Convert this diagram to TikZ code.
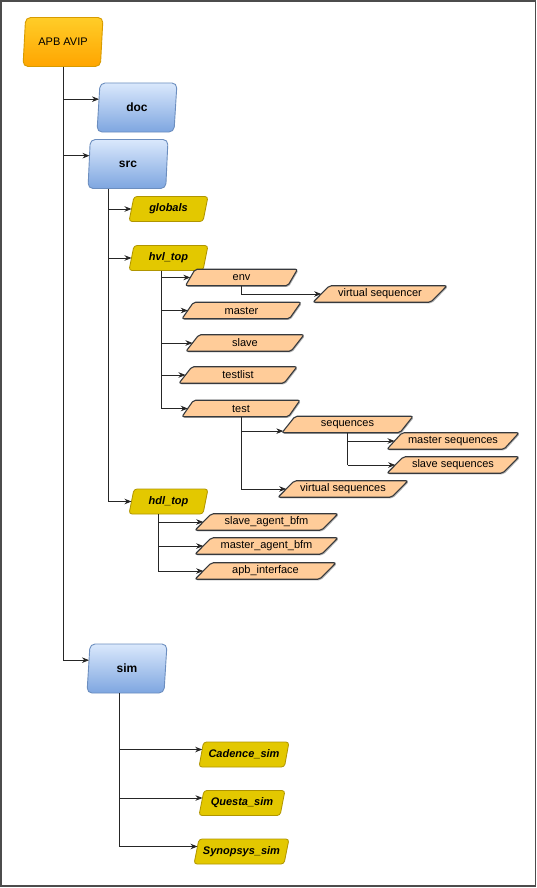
\documentclass[tikz,border=0pt]{standalone}
\usepackage{fontspec}
\setmainfont{Liberation Sans}
\usetikzlibrary{shapes.geometric,arrows.meta,calc,shadows}
\definecolor{apbT}{HTML}{FFCD28}
\definecolor{apbBot}{HTML}{FFA500}
\definecolor{apbB}{HTML}{D79B00}
\definecolor{blueT}{HTML}{DAE8FC}
\definecolor{blueBot}{HTML}{7EA6E0}
\definecolor{blueB}{HTML}{6C8EBF}
\definecolor{goldF}{HTML}{E3C800}
\definecolor{goldB}{HTML}{B09500}
\definecolor{peachF}{HTML}{FFCC99}
\definecolor{peachB}{HTML}{36393D}
\tikzset{
  para/.style={trapezium, trapezium stretches body, inner sep=0pt, outer sep=0pt, align=center},
  bigbox/.style={para, trapezium left angle=71, trapezium right angle=109,
    minimum width=80pt, minimum height=49pt, rounded corners=5pt, line width=0.9pt},
  apbbox/.style={bigbox, draw=apbB, top color=apbT, bottom color=apbBot,
    font=\fontsize{11}{13}\selectfont},
  bluebox/.style={bigbox, draw=blueB, top color=blueT, bottom color=blueBot,
    font=\fontsize{12}{14}\selectfont\bfseries},
  goldbox/.style={para, trapezium left angle=64, trapezium right angle=116,
    minimum height=25pt, rounded corners=3pt, draw=goldB, fill=goldF, line width=0.8pt,
    font=\fontsize{11}{13}\selectfont\bfseries\itshape},
  peachbox/.style={para, trapezium left angle=32, trapezium right angle=148,
    minimum height=16.5pt, rounded corners=2pt, draw=peachB, fill=peachF, line width=1.1pt,
    drop shadow={shadow xshift=1pt, shadow yshift=-1.2pt, opacity=0.3, fill=black},
    font=\fontsize{11}{13}\selectfont},
  ln/.style={line width=0.8pt, draw=black!85},
  arr/.style={ln, -{Stealth[length=7pt,width=5.5pt]}}
}
\begin{document}
\begin{tikzpicture}[x=1pt,y=-1pt]
\useasboundingbox (0,0) rectangle (537,888);
\fill[white] (0,0) rectangle (537,888);
\draw[line width=1.5pt, draw=black!70] (1,1) rectangle (535.5,886);

% top level
\node[apbbox] (apb) at (63,42) {APB AVIP};
\node[bluebox] (doc) at (137,107.5) {doc};
\node[bluebox] (src) at (128,164) {src};
\node[bluebox] (sim) at (127,668.5) {sim};

% src children
\node[goldbox, minimum width=79pt] (glob) at (168.5,209) {globals};
\node[goldbox, minimum width=79pt] (hvl) at (168.5,258) {hvl\_top};
\node[goldbox, minimum width=79pt] (hdl) at (168.5,501.5) {hdl\_top};

% hvl children
\node[peachbox, minimum width=112pt] (env) at (241.5,277.5) {env};
\node[peachbox, minimum width=119pt] (mst) at (241.5,310.5) {master};
\node[peachbox, minimum width=118pt] (slv) at (245,343) {slave};
\node[peachbox, minimum width=118pt] (tl) at (238,375) {testlist};
\node[peachbox, minimum width=118pt] (test) at (241,408.5) {test};
\node[peachbox, minimum width=134pt] (vsqr) at (380,294) {virtual sequencer};
\node[peachbox, minimum width=131pt] (seq) at (347.5,424.5) {sequences};
\node[peachbox, minimum width=132pt] (mseq) at (453,441) {master sequences};
\node[peachbox, minimum width=132pt] (sseq) at (453,465) {slave sequences};
\node[peachbox, minimum width=130pt] (vseqs) at (343,489) {virtual sequences};

% hdl children
\node[peachbox, minimum width=143pt] (sab) at (266.5,522) {slave\_agent\_bfm};
\node[peachbox, minimum width=143pt] (mab) at (266.5,546) {master\_agent\_bfm};
\node[peachbox, minimum width=141pt] (apbi) at (265.5,571) {apb\_interface};

% sim children
\node[goldbox, minimum width=90pt] (cad) at (244,754.5) {Cadence\_sim};
\node[goldbox, minimum width=86pt] (qst) at (242,803) {Questa\_sim};
\node[goldbox, minimum width=95pt] (syn) at (241.5,851.5) {Synopsys\_sim};

% ---- connectors ----
\coordinate (docIn) at ($(doc.bottom left corner)!0.67!(doc.top left corner)$);
\coordinate (srcIn) at ($(src.bottom left corner)!0.67!(src.top left corner)$);
\coordinate (simIn) at ($(sim.bottom left corner)!0.67!(sim.top left corner)$);
\draw[ln] (apb.south) -- (apb.south |- simIn);
\draw[arr] (apb.south |- docIn) -- (docIn);
\draw[arr] (apb.south |- srcIn) -- (srcIn);
\draw[arr] (apb.south |- simIn) -- (simIn);

\coordinate (srcB) at ($(src.bottom left corner)+(20,0)$);
\draw[ln] (srcB) -- (srcB |- hdl.left side);
\draw[arr] (srcB |- glob.left side) -- (glob.left side);
\draw[arr] (srcB |- hvl.left side) -- (hvl.left side);
\draw[arr] (srcB |- hdl.left side) -- (hdl.left side);

\coordinate (hvlB) at ($(hvl.bottom left corner)+(32,0)$);
\draw[ln] (hvlB) -- (hvlB |- test.left side);
\draw[arr] (hvlB |- env.left side) -- (env.left side);
\draw[arr] (hvlB |- mst.left side) -- (mst.left side);
\draw[arr] (hvlB |- slv.left side) -- (slv.left side);
\draw[arr] (hvlB |- tl.left side) -- (tl.left side);
\draw[arr] (hvlB |- test.left side) -- (test.left side);

\draw[arr] (env.south) |- (vsqr.left side);

\coordinate (seqIn) at ($(seq.bottom left corner)!0.1!(seq.top left corner)$);
\draw[ln] (test.south) -- (test.south |- vseqs.left side);
\draw[arr] (test.south |- seqIn) -- (seqIn);
\draw[arr] (test.south |- vseqs.left side) -- (vseqs.left side);

\draw[ln] (seq.south) -- (seq.south |- sseq.left side);
\draw[arr] (seq.south |- mseq.left side) -- (mseq.left side);
\draw[arr] (seq.south |- sseq.left side) -- (sseq.left side);

\coordinate (hdlB) at ($(hdl.bottom left corner)+(29,0)$);
\draw[ln] (hdlB) -- (hdlB |- apbi.left side);
\draw[arr] (hdlB |- sab.left side) -- (sab.left side);
\draw[arr] (hdlB |- mab.left side) -- (mab.left side);
\draw[arr] (hdlB |- apbi.left side) -- (apbi.left side);

\coordinate (simB) at ($(sim.bottom left corner)+(32,0)$);
\coordinate (cadIn) at ($(cad.bottom left corner)!0.7!(cad.top left corner)$);
\coordinate (qstIn) at ($(qst.bottom left corner)!0.7!(qst.top left corner)$);
\coordinate (synIn) at ($(syn.bottom left corner)!0.7!(syn.top left corner)$);
\draw[ln] (simB) -- (simB |- synIn);
\draw[arr] (simB |- cadIn) -- (cadIn);
\draw[arr] (simB |- qstIn) -- (qstIn);
\draw[arr] (simB |- synIn) -- (synIn);
\end{tikzpicture}
\end{document}
